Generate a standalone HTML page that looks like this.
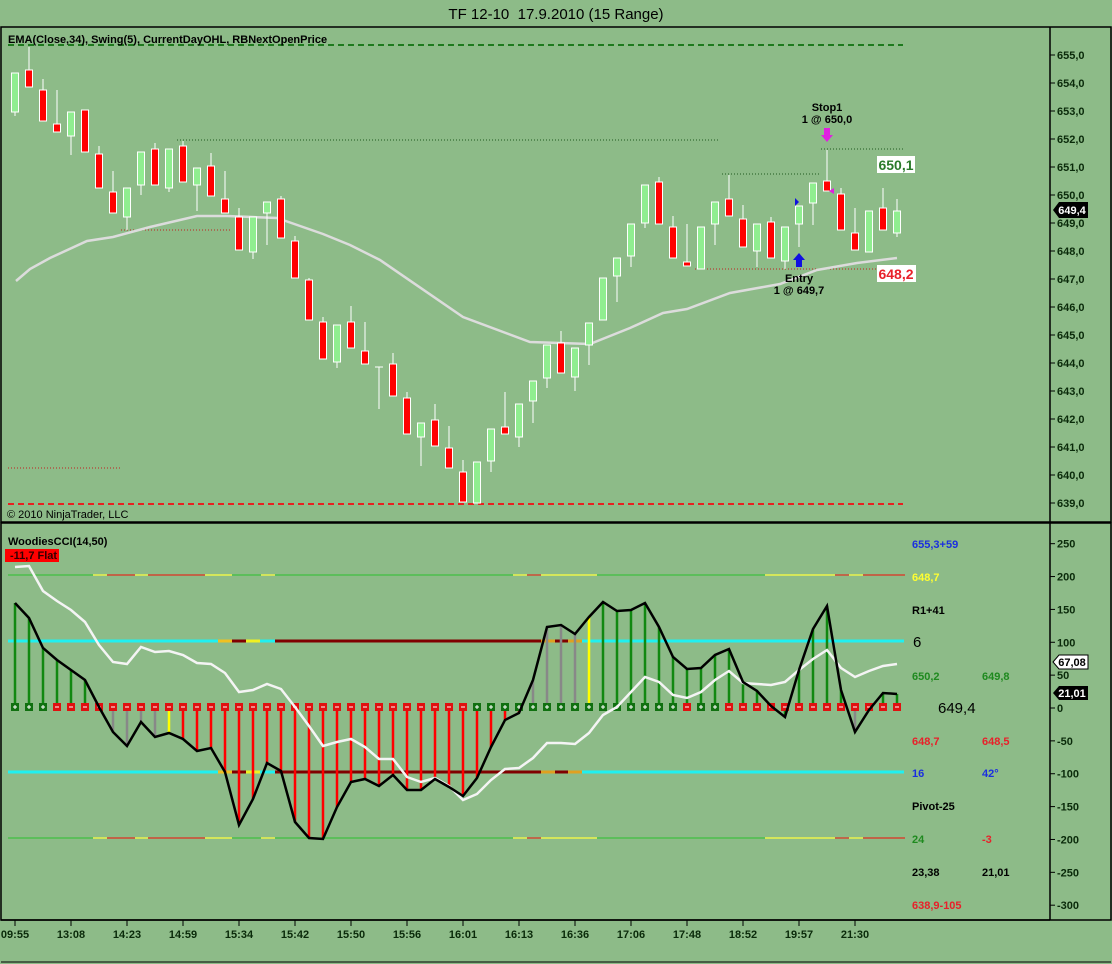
<!DOCTYPE html>
<html><head><meta charset="utf-8"><style>
body{margin:0;background:#8dbb88;}
svg{display:block;font-family:"Liberation Sans",sans-serif;}
.ax{font-size:11px;font-weight:bold;fill:#0a2a0a;}
.b{font-weight:bold;font-size:11px;}
</style></head><body>
<svg id="s" width="1112" height="964" xmlns="http://www.w3.org/2000/svg">
<rect width="1112" height="964" fill="#8dbb88"/>
<text x="556" y="19" text-anchor="middle" font-size="15" fill="#000">TF 12-10&#160; 17.9.2010 (15 Range)</text>
<rect x="1" y="27" width="1110" height="495" fill="none" stroke="#000" stroke-width="1.5"/>
<rect x="1" y="523" width="1110" height="397" fill="none" stroke="#000" stroke-width="1.5"/>
<line x1="1050" y1="27" x2="1050" y2="920" stroke="#000" stroke-width="1.5"/>
<line x1="1" y1="920" x2="1050" y2="920" stroke="#000" stroke-width="1.5"/>
<line x1="1" y1="962" x2="1111" y2="962" stroke="#000"/>
<g id="g"></g>
<text x="8" y="43" class="b" fill="#000">EMA(Close,34), Swing(5), CurrentDayOHL, RBNextOpenPrice</text>
<text x="7" y="518" font-size="11" fill="#000">© 2010 NinjaTrader, LLC</text>
<text x="827" y="111" text-anchor="middle" class="b">Stop1</text>
<text x="827" y="123" text-anchor="middle" class="b">1 @ 650,0</text>
<text x="799" y="282" text-anchor="middle" class="b">Entry</text>
<text x="799" y="294" text-anchor="middle" class="b">1 @ 649,7</text>
<rect x="877" y="156" width="38" height="17" fill="#fff"/>
<text x="896" y="170" text-anchor="middle" font-size="14" font-weight="bold" fill="#2a7a2a">650,1</text>
<rect x="877" y="265" width="39" height="17" fill="#fff"/>
<text x="896" y="279" text-anchor="middle" font-size="14" font-weight="bold" fill="#e8202a">648,2</text>
<path d="M1053,210 L1059,202 L1088,202 L1088,218 L1059,218 Z" fill="#000"/>
<text x="1072" y="214" text-anchor="middle" class="b" fill="#fff">649,4</text>
<text x="8" y="545" class="b" font-size="12" fill="#000">WoodiesCCI(14,50)</text>
<rect x="5" y="549" width="54" height="13" fill="#f00"/>
<text x="10" y="559" class="b" fill="#300">-11,7 Flat</text>
<g class="b">
<text x="912" y="548" fill="#1a2ee0">655,3+59</text>
<text x="912" y="581" fill="#ffff30">648,7</text>
<text x="912" y="614" fill="#000">R1+41</text>
<text x="913" y="647" font-size="15" font-weight="normal" fill="#000">6</text>
<text x="912" y="680" fill="#1f8a1f">650,2</text>
<text x="982" y="680" fill="#1f8a1f">649,8</text>
<text x="938" y="713" font-size="15" font-weight="normal" fill="#000">649,4</text>
<text x="912" y="745" fill="#e8202a">648,7</text>
<text x="982" y="745" fill="#e8202a">648,5</text>
<text x="912" y="777" fill="#1a2ee0">16</text>
<text x="982" y="777" fill="#1a2ee0">42°</text>
<text x="912" y="810" fill="#000">Pivot-25</text>
<text x="912" y="843" fill="#1f8a1f">24</text>
<text x="982" y="843" fill="#e8202a">-3</text>
<text x="912" y="876" fill="#000">23,38</text>
<text x="982" y="876" fill="#000">21,01</text>
<text x="912" y="909" fill="#e8202a">638,9-105</text>
</g>
<path d="M1053,662 L1059,655 L1088,655 L1088,669 L1059,669 Z" fill="#fff" stroke="#000"/>
<text x="1072" y="666" text-anchor="middle" class="b" fill="#000">67,08</text>
<path d="M1053,693 L1059,686 L1088,686 L1088,700 L1059,700 Z" fill="#000"/>
<text x="1072" y="697" text-anchor="middle" class="b" fill="#fff">21,01</text>
<g id="ax" class="ax"></g>
</svg>
<script>
var NS="http://www.w3.org/2000/svg",g=document.getElementById('g'),ax=document.getElementById('ax');
function el(t,a,p){var e=document.createElementNS(NS,t);for(var k in a)e.setAttribute(k,a[k]);(p||g).appendChild(e);return e;}
function ln(x1,y1,x2,y2,c,w,d){var a={x1:x1,y1:y1,x2:x2,y2:y2,stroke:c,'stroke-width':w||1};if(d)a['stroke-dasharray']=d;return el('line',a);}
function X(i){return 15+14*i;}
ln(8,45,903,45,'#1e7a1e',2,'6,4');
ln(8,504,903,504,'#e82020',2,'6,4');
ln(177,140,720,140,'#1e5a1e',1,'1,2');
ln(121,230,231,230,'#c02020',1,'1,2');
ln(8,468,120,468,'#c02020',1,'1,2');
ln(722,174,820,174,'#1e5a1e',1,'1,2');
ln(821,149,904,149,'#1e5a1e',1,'1,2');
ln(695,269,877,269,'#c02020',1,'1,2');
el('polyline',{points:"16,281 30,269 50,258 87,241 113,237 150,227 197,216 227,216 277,218 323,234 350,245 380,260 463,317 530,342 590,344 630,328 663,313 687,309 730,293 780,284 817,270 857,263 897,258",fill:'none',stroke:'#dcdcdc','stroke-width':2.5});
var C=[['g',73,112,73,116],['r',70,87,47],['r',90,121,79],['r',124,132,90],['g',112,136,112,155],['r',110,152],['r',154,188,146],['r',192,213,171],['g',188,217,188,230],['g',152,185,152,195],
['r',149,185,143],['g',149,188,149,192],['r',146,182,141],['g',168,185,168,211],['r',166,196,153],['r',199,213,171],['r',217,250,208],['g',217,252,217,259],['g',202,213,202,245],['r',199,238,196],
['r',241,278,236],['r',280,320,278],['r',322,359,317],['g',325,362,325,368],['r',322,348,306],['r',351,364,322],['d',367,367,367,409],['r',364,396,353],['r',398,434,392],['g',423,437,423,466],
['r',420,446,404],['r',448,468,426],['r',472,502,460],['g',462,503],['g',429,461,429,472],['r',427,434,392],['g',404,437,404,447],['g',381,401,381,423],['g',345,378,345,388],['r',343,373,331],
['g',348,377,348,391],['g',323,345,323,365],['g',278,320],['g',258,276,258,302],['g',224,256,224,267],['g',185,223,185,228],['r',182,224,177],['r',227,258,216],['r',262,266,224],['g',227,269],
['g',202,224,202,245],['r',199,216,175],['r',219,247,205],['g',224,251,224,267],['r',222,258,217],['g',227,261,227,269],['g',206,224,206,247],['g',183,203,183,225],['r',181,191,150],['r',194,230,188],
['r',233,250,208],['g',211,252],['r',208,230,188],['g',211,233,199,237]];
C.forEach(function(c,i){var x=X(i),wt=c[3]||c[1],wb=c[4]||c[2];
 ln(x,wt,x,wb,'#fff',1);
 if(c[0]=='d'){ln(x-4,c[1],x+4,c[1],'#fff',1);return;}
 el('rect',{x:x-3.5,y:c[1],width:7,height:Math.max(2,c[2]-c[1]),fill:c[0]=='g'?'#90ee90':'#f00',stroke:'#fff','stroke-width':1});
});
el('path',{d:'M824,128 h6 v7 h3 l-6,7 l-6,-7 h3 z',fill:'#e020e0'});
el('path',{d:'M829,191 l5,-3 v6 z',fill:'#e020e0'});
el('path',{d:'M795,198 l4,4 l-4,4 z',fill:'#1010e0'});
el('path',{d:'M796,267 v-7 h-3 l6,-7 l6,7 h-3 v7 z',fill:'#1010e0'});
for(var p=655;p>=639;p--){var y=55+(655-p)*28;ln(1050,y,1055,y,'#000',1);var t=el('text',{x:1057,y:y+4},ax);t.textContent=p+',0';}
for(var v=250;v>=-300;v-=50){var y=708-v*0.6573;ln(1050,y,1055,y,'#000',1);var t=el('text',{x:1057,y:y+4},ax);t.textContent=v;}
var T=['09:55','13:08','14:23','14:59','15:34','15:42','15:50','15:56','16:01','16:13','16:36','17:06','17:48','18:52','19:57','21:30'];
T.forEach(function(s,k){var x=15+56*k;ln(x,920,x,926,'#000',1);var t=el('text',{x:x,y:938,'text-anchor':'middle'},ax);t.textContent=s;});
function seg(y,list,base,w,dash){list.forEach(function(s){ln(s[0],y,s[1],y,s[2],w,s[3]||dash);});}
var S200=[[8,93,'#40c040'],[93,107,'#ffff40'],[107,135,'#e03020'],[135,148,'#ffff40'],[148,205,'#e03020'],[205,232,'#ffff40'],[232,261,'#40c040'],[261,275,'#ffff40'],[275,513,'#40c040'],[513,527,'#ffff40'],[527,541,'#e03020'],[541,597,'#ffff40'],[597,765,'#40c040'],[765,835,'#ffff40'],[835,849,'#e03020'],[849,863,'#ffff40'],[863,905,'#e03020']];
seg(575,S200,0,1.2);seg(838,S200,0,1.2);
var S100=[[8,218,'#20f0f0'],[218,232,'#f0c020'],[232,246,'#800000'],[246,260,'#f0f020'],[260,275,'#20f0f0'],[275,541,'#800000',0,'12,2'],[541,555,'#e0a020'],[555,568,'#800000'],[568,582,'#e0a020'],[582,904,'#20f0f0']];
seg(641,S100,0,3);seg(772,S100,0,3);
var B=[603,618,648,660,670,680,707,732,746,722,737,733,739,751,748,772,825,799,763,771,822,838,839,807,782,779,786,775,790,790,779,787,796,778,747,720,713,680,627,625,634,617,602,611,610,603,627,657,669,668,655,649,682,691,706,717,670,629,606,690,732,710,693,694];
var W=[567,566,591,601,610,622,645,662,664,647,652,651,655,663,664,673,692,690,684,689,707,726,746,742,739,747,759,759,777,782,778,786,800,794,780,769,768,758,743,743,744,733,715,707,692,677,682,695,698,692,680,671,683,684,685,682,670,659,650,668,677,671,666,664];
B.forEach(function(v,i){var c;
 if(i<6)c='#118811';else if(i==6)c='#f00';else if(i<11)c='#888';else if(i==11)c='#ff0';else if(i<37)c='#f00';else if(i<41)c='#888';else if(i==41)c='#ff0';else if(i==60)c='#888';else c='#118811';
 ln(X(i),707,X(i),v,c,2.5);});
B.forEach(function(v,i){var pos=(i<3)||(i>=33&&i<=47)||i==49||i==50;
 el('rect',{x:X(i)-4,y:703,width:8,height:8,fill:pos?'#107010':'#e01010'});
 ln(X(i)-2,707,X(i)+2,707,'#fff',1);if(pos)ln(X(i),705,X(i),709,'#fff',1);});
el('polyline',{points:W.map(function(v,i){return X(i)+','+v;}).join(' '),fill:'none',stroke:'#f4f4f4','stroke-width':2.5});
el('polyline',{points:B.map(function(v,i){return X(i)+','+v;}).join(' '),fill:'none',stroke:'#000','stroke-width':2.5});
</script>
</body></html>
